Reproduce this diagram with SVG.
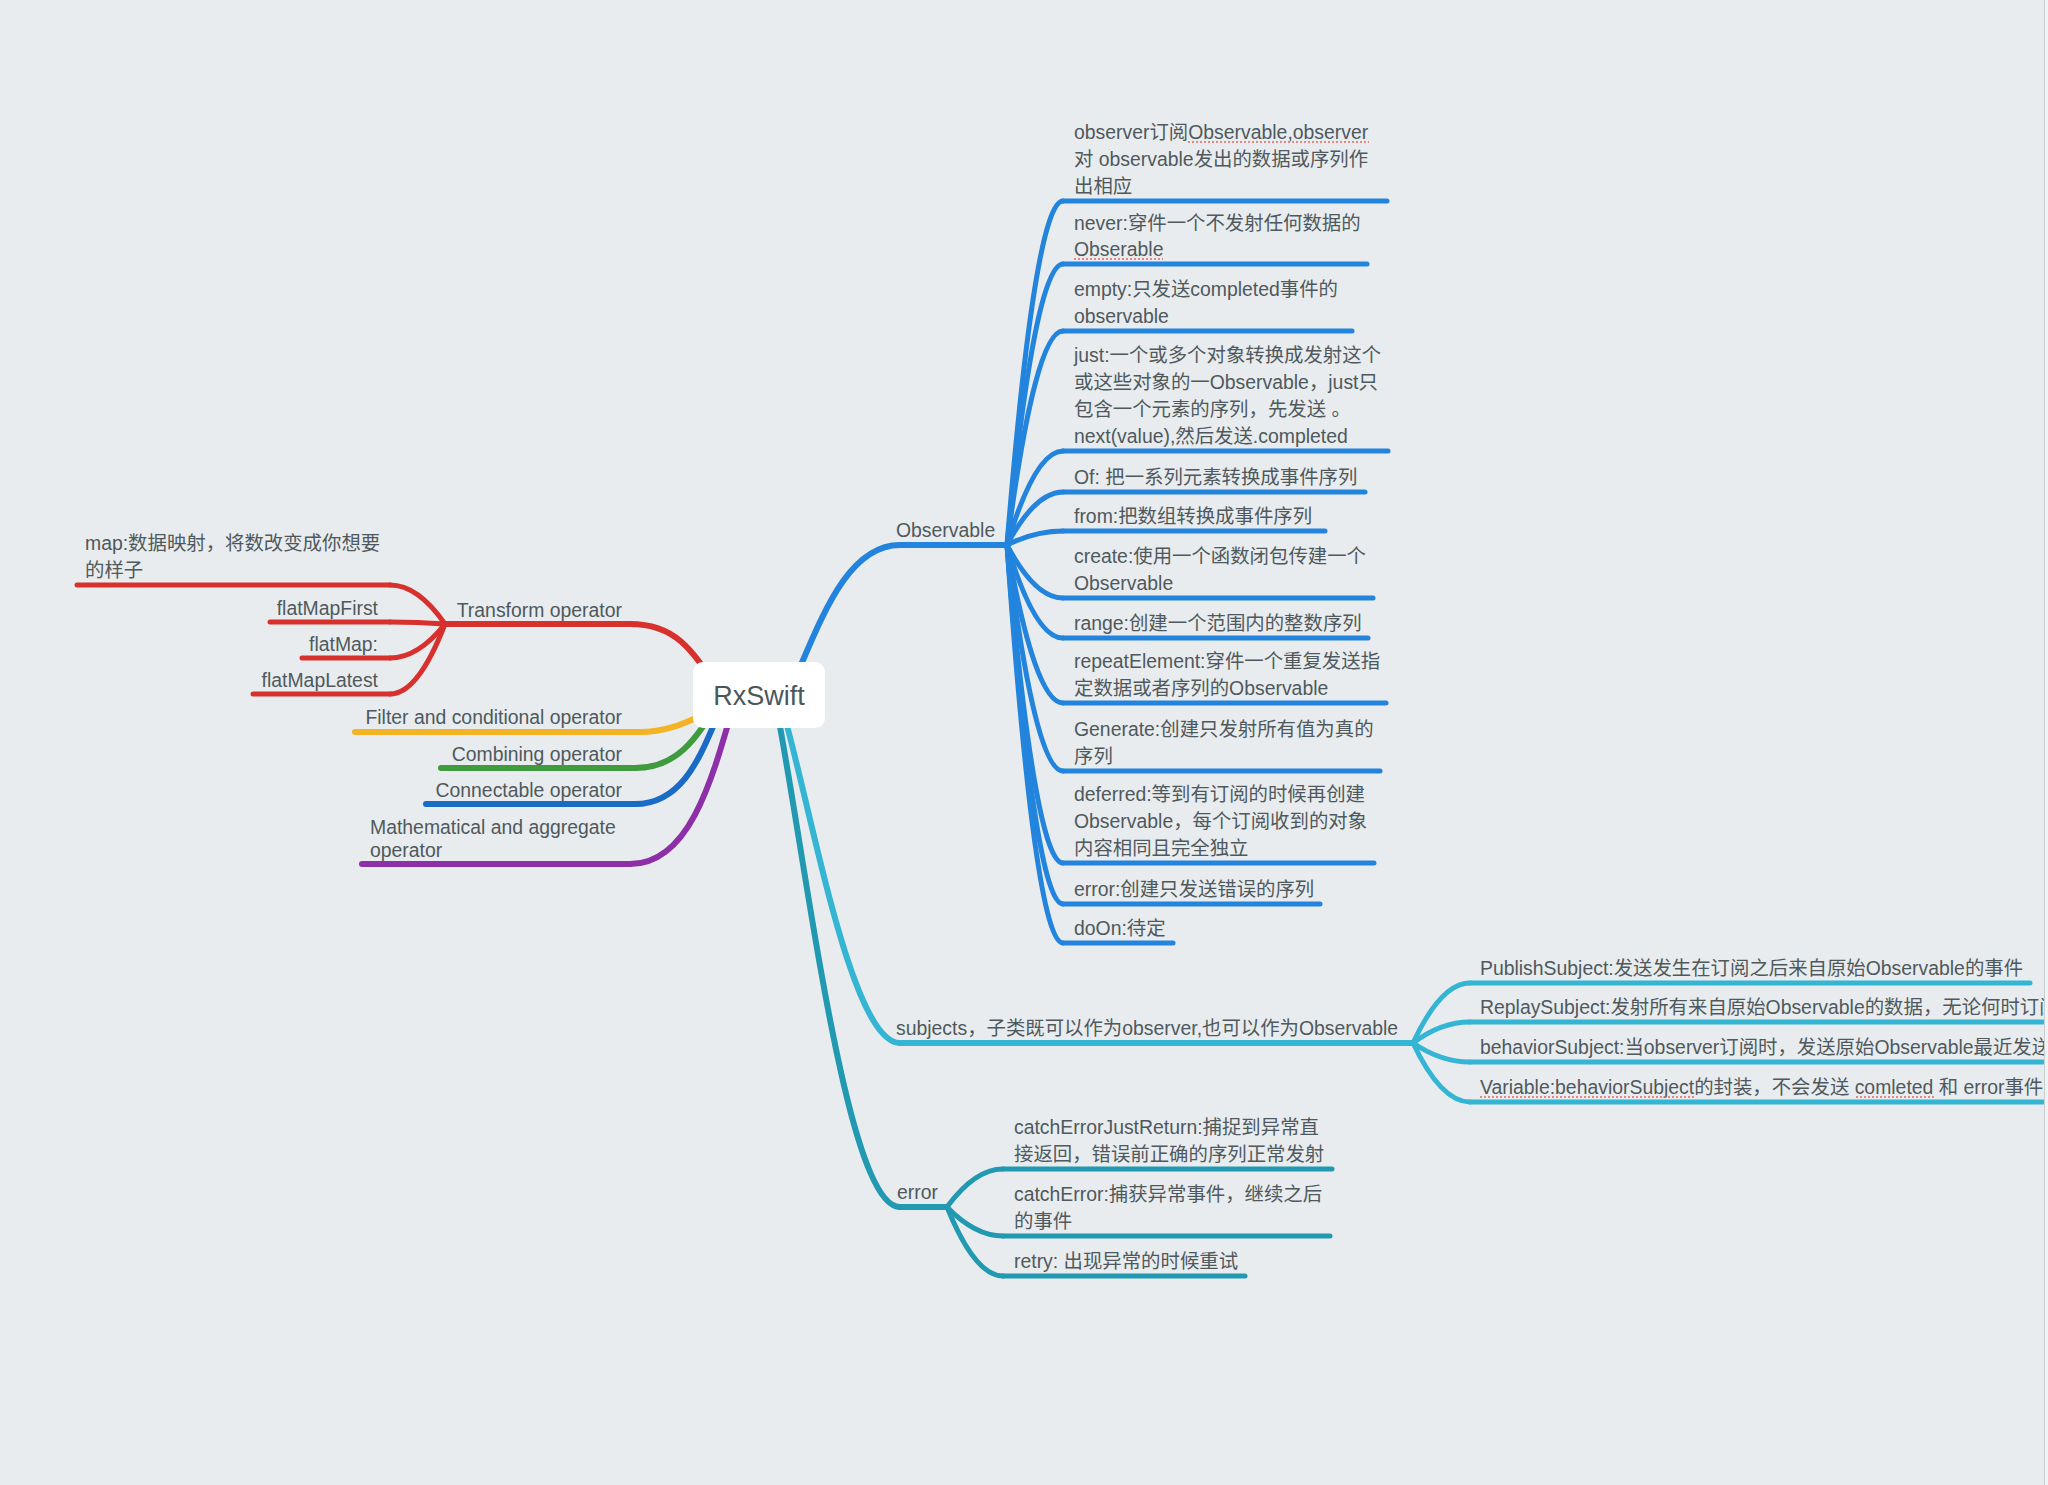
<svg xmlns="http://www.w3.org/2000/svg" width="2048" height="1485" viewBox="0 0 2048 1485">
<defs>
<style>
.t{font-family:"Liberation Sans","Noto Sans CJK SC",sans-serif;font-size:19.4px;fill:#4f595d}
.e{text-anchor:end}
.ln{fill:none;stroke-linecap:round;stroke-linejoin:round;stroke-width:5}
.mn{fill:none;stroke-linecap:round;stroke-linejoin:round;stroke-width:6}
.red{stroke:#d8302d}.yel{stroke:#f4b324}.grn{stroke:#3f9b3e}.blu{stroke:#1a6bc6}.pur{stroke:#8d2fa8}
.obs{stroke:#2284dc}.sub{stroke:#33b5d3}.err{stroke:#2099b1}
.sq{fill:none;stroke:#e06a5e;stroke-width:1.6;stroke-dasharray:2 2}
</style>
<clipPath id="clipR"><rect x="0" y="0" width="2044" height="1485"/></clipPath>
</defs>
<rect x="0" y="0" width="2048" height="1485" fill="#e8ecee"/>
<rect x="2044" y="0" width="4" height="1485" fill="#f2f3f4"/>
<line x1="2044.5" y1="0" x2="2044.5" y2="1485" stroke="#c9ced1" stroke-width="1"/>

<g id="connectors" clip-path="url(#clipR)">
<!-- main branches -->
<path class="mn red" d="M725 700 C695 655 680 624 630 624"/>
<path class="mn yel" d="M730 705 C700 712 680 732 640 732"/>
<path class="mn grn" d="M720 700 C698 735 680 768 635 768"/>
<path class="mn blu" d="M725 700 C705 740 690 804 635 804"/>
<path class="mn pur" d="M735 700 C712 780 690 864 630 864"/>
<path class="mn obs" d="M785 700 C815 640 840 545 900 545"/>
<path class="mn sub" d="M780 700 C810 800 850 1043 900 1043"/>
<path class="mn err" d="M775 700 C805 850 845 1207 900 1207"/>
<!-- transform children -->
<path class="ln red" d="M445 624 Q418 585 390 585"/>
<path class="ln red" d="M445 624 Q418 622 390 622"/>
<path class="ln red" d="M445 624 Q418 658 390 658"/>
<path class="ln red" d="M445 624 Q418 694 390 694"/>
<!-- observable children -->
<path class="ln obs" d="M1007 545 Q1035 201 1063 201"/>
<path class="ln obs" d="M1007 545 Q1035 264 1063 264"/>
<path class="ln obs" d="M1007 545 Q1035 331 1063 331"/>
<path class="ln obs" d="M1007 545 Q1035 451 1063 451"/>
<path class="ln obs" d="M1007 545 Q1035 492 1063 492"/>
<path class="ln obs" d="M1007 545 Q1035 531 1063 531"/>
<path class="ln obs" d="M1007 545 Q1035 598 1063 598"/>
<path class="ln obs" d="M1007 545 Q1035 638 1063 638"/>
<path class="ln obs" d="M1007 545 Q1035 703 1063 703"/>
<path class="ln obs" d="M1007 545 Q1035 771 1063 771"/>
<path class="ln obs" d="M1007 545 Q1035 863 1063 863"/>
<path class="ln obs" d="M1007 545 Q1035 904 1063 904"/>
<path class="ln obs" d="M1007 545 Q1035 943 1063 943"/>
<!-- subjects children -->
<path class="ln sub" d="M1413 1043 Q1441 983 1470 983"/>
<path class="ln sub" d="M1413 1043 Q1441 1022 1470 1022"/>
<path class="ln sub" d="M1413 1043 Q1441 1062 1470 1062"/>
<path class="ln sub" d="M1413 1043 Q1441 1102 1470 1102"/>
<!-- error children -->
<path class="ln err" d="M947 1207 Q975 1169 1003 1169"/>
<path class="ln err" d="M947 1207 Q975 1236 1003 1236"/>
<path class="ln err" d="M947 1207 Q975 1276 1003 1276"/>
</g>

<g id="node-rxswift">
<rect x="693" y="662" width="132" height="66" rx="10" fill="#ffffff"/>
<text x="759" y="705" font-family="Liberation Sans, sans-serif" font-size="27" fill="#4a585c" text-anchor="middle">RxSwift</text>
</g>

<g id="node-transform">
<path class="mn red" d="M630 624 L445 624"/>
<text class="t e" x="622" y="617">Transform operator</text>
</g>
<g id="node-map">
<path class="ln red" d="M390 585 L77 585"/>
<text class="t" x="85" y="550">map:数据映射，将数改变成你想要</text>
<text class="t" x="85" y="577">的样子</text>
</g>
<g id="node-flatmapfirst">
<path class="ln red" d="M390 622 L270 622"/>
<text class="t e" x="378" y="615">flatMapFirst</text>
</g>
<g id="node-flatmap">
<path class="ln red" d="M390 658 L302 658"/>
<text class="t e" x="378" y="651">flatMap:</text>
</g>
<g id="node-flatmaplatest">
<path class="ln red" d="M390 694 L253 694"/>
<text class="t e" x="378" y="687">flatMapLatest</text>
</g>
<g id="node-filter">
<path class="mn yel" d="M640 732 L355 732"/>
<text class="t e" x="622" y="724">Filter and conditional operator</text>
</g>
<g id="node-combining">
<path class="mn grn" d="M635 768 L441 768"/>
<text class="t e" x="622" y="761">Combining operator</text>
</g>
<g id="node-connectable">
<path class="mn blu" d="M635 804 L426 804"/>
<text class="t e" x="622" y="797">Connectable operator</text>
</g>
<g id="node-math">
<path class="mn pur" d="M630 864 L362 864"/>
<text class="t" x="370" y="834">Mathematical and aggregate</text>
<text class="t" x="370" y="857">operator</text>
</g>

<g id="node-observable">
<path class="mn obs" d="M900 545 L1007 545"/>
<text class="t" x="896" y="537">Observable</text>
</g>
<g id="node-obs-1">
<path class="ln obs" d="M1063 201 L1387 201"/>
<text class="t" x="1074" y="139">observer订阅Observable,observer</text>
<text class="t" x="1074" y="166">对 observable发出的数据或序列作</text>
<text class="t" x="1074" y="193">出相应</text>
<path class="sq" d="M1188 142 L1369 142"/>
</g>
<g id="node-obs-never">
<path class="ln obs" d="M1063 264 L1367 264"/>
<text class="t" x="1074" y="230">never:穿件一个不发射任何数据的</text>
<text class="t" x="1074" y="256">Obserable</text>
<path class="sq" d="M1074 259 L1163 259"/>
</g>
<g id="node-obs-empty">
<path class="ln obs" d="M1063 331 L1352 331"/>
<text class="t" x="1074" y="296">empty:只发送completed事件的</text>
<text class="t" x="1074" y="323">observable</text>
</g>
<g id="node-obs-just">
<path class="ln obs" d="M1063 451 L1388 451"/>
<text class="t" x="1074" y="362">just:一个或多个对象转换成发射这个</text>
<text class="t" x="1074" y="389">或这些对象的一Observable，just只</text>
<text class="t" x="1074" y="416">包含一个元素的序列，先发送 。</text>
<text class="t" x="1074" y="443">next(value),然后发送.completed</text>
</g>
<g id="node-obs-of">
<path class="ln obs" d="M1063 492 L1365 492"/>
<text class="t" x="1074" y="484">Of: 把一系列元素转换成事件序列</text>
</g>
<g id="node-obs-from">
<path class="ln obs" d="M1063 531 L1325 531"/>
<text class="t" x="1074" y="523">from:把数组转换成事件序列</text>
</g>
<g id="node-obs-create">
<path class="ln obs" d="M1063 598 L1373 598"/>
<text class="t" x="1074" y="563">create:使用一个函数闭包传建一个</text>
<text class="t" x="1074" y="590">Observable</text>
</g>
<g id="node-obs-range">
<path class="ln obs" d="M1063 638 L1368 638"/>
<text class="t" x="1074" y="630">range:创建一个范围内的整数序列</text>
</g>
<g id="node-obs-repeat">
<path class="ln obs" d="M1063 703 L1386 703"/>
<text class="t" x="1074" y="668">repeatElement:穿件一个重复发送指</text>
<text class="t" x="1074" y="695">定数据或者序列的Observable</text>
</g>
<g id="node-obs-generate">
<path class="ln obs" d="M1063 771 L1380 771"/>
<text class="t" x="1074" y="736">Generate:创建只发射所有值为真的</text>
<text class="t" x="1074" y="763">序列</text>
</g>
<g id="node-obs-deferred">
<path class="ln obs" d="M1063 863 L1374 863"/>
<text class="t" x="1074" y="801">deferred:等到有订阅的时候再创建</text>
<text class="t" x="1074" y="828">Observable，每个订阅收到的对象</text>
<text class="t" x="1074" y="855">内容相同且完全独立</text>
</g>
<g id="node-obs-error">
<path class="ln obs" d="M1063 904 L1320 904"/>
<text class="t" x="1074" y="896">error:创建只发送错误的序列</text>
</g>
<g id="node-obs-doon">
<path class="ln obs" d="M1063 943 L1173 943"/>
<text class="t" x="1074" y="935">doOn:待定</text>
</g>

<g id="node-subjects">
<path class="mn sub" d="M900 1043 L1413 1043"/>
<text class="t" x="896" y="1035">subjects，子类既可以作为observer,也可以作为Observable</text>
</g>
<g id="node-sub-children" clip-path="url(#clipR)">
<g id="node-publish">
<path class="ln sub" d="M1470 983 L2030 983"/>
<text class="t" x="1480" y="975">PublishSubject:发送发生在订阅之后来自原始Observable的事件</text>
</g>
<g id="node-replay">
<path class="ln sub" d="M1470 1022 L2060 1022"/>
<text class="t" x="1480" y="1014">ReplaySubject:发射所有来自原始Observable的数据，无论何时订阅</text>
</g>
<g id="node-behavior">
<path class="ln sub" d="M1470 1062 L2060 1062"/>
<text class="t" x="1480" y="1054">behaviorSubject:当observer订阅时，发送原始Observable最近发送</text>
</g>
<g id="node-variable">
<path class="ln sub" d="M1470 1102 L2060 1102"/>
<text class="t" x="1480" y="1094">Variable:behaviorSubject的封装，不会发送 comleted 和 error事件</text>
<path class="sq" d="M1480 1097 L1696 1097"/>
<path class="sq" d="M1856 1097 L1935 1097"/>
</g>
</g>

<g id="node-error">
<path class="mn err" d="M900 1207 L947 1207"/>
<text class="t" x="897" y="1199">error</text>
</g>
<g id="node-err-justreturn">
<path class="ln err" d="M1003 1169 L1332 1169"/>
<text class="t" x="1014" y="1134">catchErrorJustReturn:捕捉到异常直</text>
<text class="t" x="1014" y="1161">接返回，错误前正确的序列正常发射</text>
</g>
<g id="node-err-catch">
<path class="ln err" d="M1003 1236 L1330 1236"/>
<text class="t" x="1014" y="1201">catchError:捕获异常事件，继续之后</text>
<text class="t" x="1014" y="1228">的事件</text>
</g>
<g id="node-err-retry">
<path class="ln err" d="M1003 1276 L1245 1276"/>
<text class="t" x="1014" y="1268">retry: 出现异常的时候重试</text>
</g>
</svg>
